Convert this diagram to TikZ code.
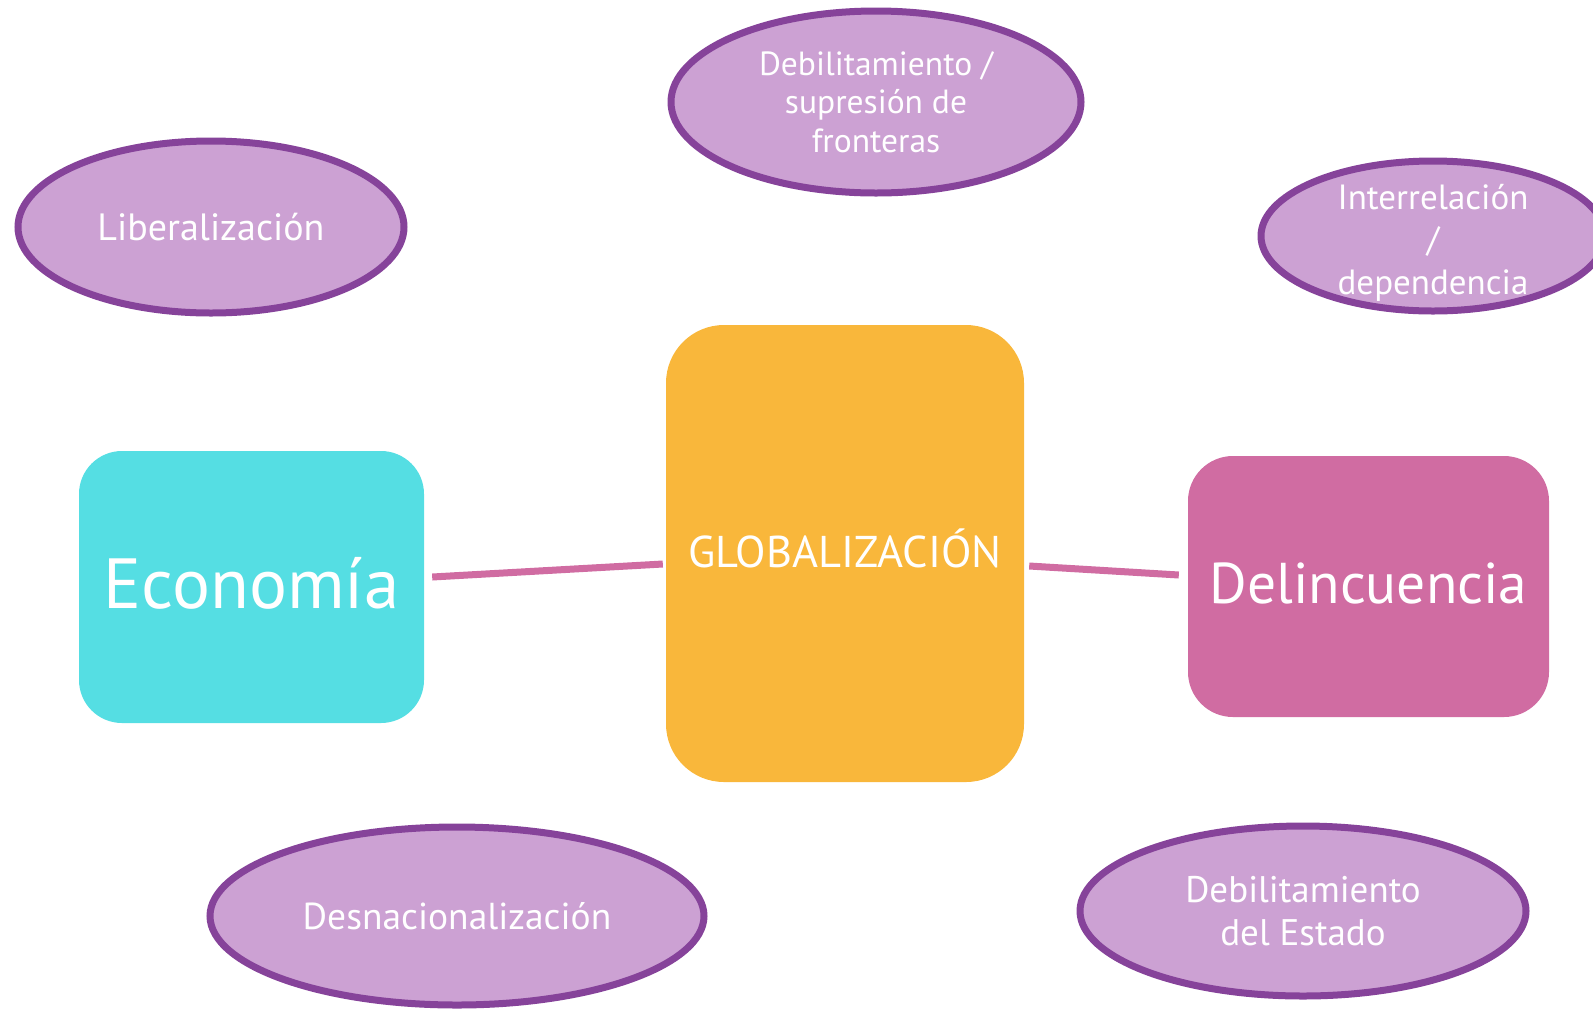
\documentclass[tikz,border=0pt]{standalone}
\usepackage{fontspec}
\setmainfont{PT Sans}
\usetikzlibrary{shapes.geometric,calc}
\definecolor{cyanbox}{HTML}{55DEE3}
\definecolor{orangebox}{HTML}{F9B73B}
\definecolor{pinkbox}{HTML}{D06CA2}
\definecolor{lilac}{HTML}{CCA1D3}
\definecolor{purpleedge}{HTML}{86439A}
\tikzset{
  bubble/.style={ellipse, fill=lilac, draw=purpleedge, line width=7pt, inner xsep=0pt, inner ysep=-15pt, text=white, align=center},
  mainbox/.style={rectangle, inner sep=0pt, text=white, align=center},
  link/.style={draw=pinkbox, line width=7pt}
}
\begin{document}
\begin{tikzpicture}[x=1pt,y=-1pt]
\useasboundingbox (0,0) rectangle (1593,1013);
% boxes
\node[mainbox, fill=cyanbox, rounded corners=43pt, minimum width=345pt, minimum height=272pt,
  text height=50pt, text depth=8pt, font=\fontsize{71}{80}\selectfont] (econ) at (251.5,587) {Economía};
\node[mainbox, fill=orangebox, rounded corners=58pt, minimum width=358pt, minimum height=457pt,
  text height=32pt, text depth=5pt, font=\fontsize{44.5}{54}\selectfont] (glob) at (845,553.5) {GLOBALIZACIÓN};
\node[mainbox, fill=pinkbox, rounded corners=45pt, minimum width=361pt, minimum height=261pt,
  text height=40pt, text depth=7pt, font=\fontsize{57.5}{66}\selectfont] (delin) at (1368.5,586.5) {Delincuencia};
% bubbles
\node[bubble, minimum width=386pt, minimum height=172pt, font=\fontsize{38}{44}\selectfont]
  (lib) at (211,227) {Liberalización};
\node[bubble, minimum width=410pt, minimum height=182pt, font=\fontsize{33.5}{38.6}\selectfont]
  (front) at (876,102) {Debilitamiento /\\supresión de\\fronteras};
\node[bubble, minimum width=344pt, minimum height=150pt, font=\fontsize{35}{42.5}\selectfont]
  (inter) at (1433,236) {\rule{0pt}{38pt}Interrelación\\/\\dependencia};
\node[bubble, minimum width=494pt, minimum height=178pt, font=\fontsize{37.5}{44}\selectfont]
  (desn) at (457,916) {Desnacionalización};
\node[bubble, minimum width=446pt, minimum height=170pt, font=\fontsize{37}{42.7}\selectfont]
  (estado) at (1303,911) {Debilitamiento\\del Estado};
% links
\draw[link] ($(econ.east)+(8,-10)$) -- ($(glob.west)+(-3,10.5)$);
\draw[link] ($(glob.east)+(5,12.5)$) -- ($(delin.west)+(-9,-11.5)$);
\end{tikzpicture}
\end{document}
